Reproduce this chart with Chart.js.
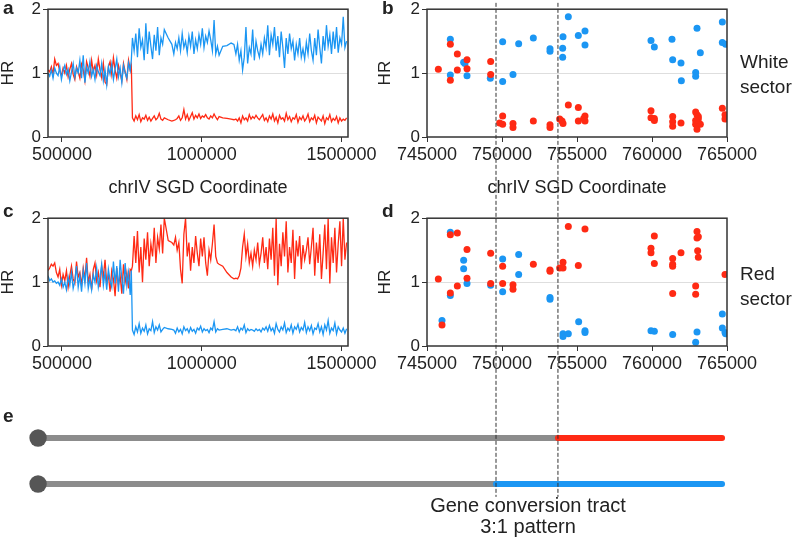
<!DOCTYPE html>
<html>
<head>
<meta charset="utf-8">
<script src="https://cdn.jsdelivr.net/npm/chart.js@4.4.1/dist/chart.umd.min.js"></script>
<style>
    body { margin: 0; background: #fff; }
    #wrap { position: relative; width: 796px; height: 542px; overflow: hidden;
            font-family: 'Liberation Sans', Arial, Helvetica, sans-serif; color: #222; }
    canvas { position: absolute; }
    #chartE { pointer-events: none; }
    .letter { position: absolute; font-weight: bold; font-size: 19px; line-height: 19px; }
    .side { position: absolute; font-size: 19px; line-height: 25px; }
    .note { position: absolute; font-size: 20px; line-height: 21px; text-align: center; width: 220px; }
</style>
</head>
<body>
<div id="wrap">
    <canvas id="chartA" width="400" height="203" style="left:0;top:-3px"></canvas>
    <canvas id="chartB" width="400" height="203" style="left:377px;top:-3px"></canvas>
    <canvas id="chartC" width="400" height="174" style="left:0;top:206px"></canvas>
    <canvas id="chartD" width="400" height="174" style="left:377px;top:206px"></canvas>
    <canvas id="chartE" width="796" height="542" style="left:0;top:0"></canvas>

    <div class="letter" style="left:3px;top:-2px">a</div>
    <div class="letter" style="left:382px;top:-2px">b</div>
    <div class="letter" style="left:3px;top:201px">c</div>
    <div class="letter" style="left:382px;top:201px">d</div>
    <div class="letter" style="left:3px;top:406px">e</div>

    <div class="side" style="left:740px;top:49px">White<br>sector</div>
    <div class="side" style="left:740px;top:261px">Red<br>sector</div>
    <div class="note" style="left:418px;top:495px">Gene conversion tract<br>3:1 pattern</div>
</div>

<script>
// ========================================
// データ
// ========================================

// 軸の目盛り
const yTicks = [0, 1, 2];
const wideTicks = [500000, 1000000, 1500000];
const zoomTicks = [745000, 750000, 755000, 760000, 765000];

// a, c の測定位置 (kb)
const posKb = [
    450,456,462,468,474,480,486,492,498,504,510,516,522,528,534,540,546,552,558,564,
    570,576,582,588,594,600,606,612,618,624,630,636,642,648,654,660,666,672,678,684,
    690,696,702,708,714,720,726,732,738,744,748,
    752,758,764,770,776,782,788,794,800,806,812,818,824,830,836,842,848,854,860,866,
    880,893,
    900,906,912,918,924,930,936,942,948,954,960,966,972,978,984,990,996,1002,1008,1014,
    1020,1026,1032,1038,1044,1050,1056,1062,
    1075,1090,1105,1115,
    1122,1128,1134,1140,1146,1152,1158,1164,1170,1176,1182,1188,1194,1200,1206,1212,1218,1224,1230,1236,
    1242,1248,1254,1260,1266,1272,1278,1284,1290,1296,1302,1308,1314,1320,1326,1332,1338,1344,1350,1356,
    1362,1368,1374,1380,1386,1392,1398,1404,1410,1416,1422,1428,1434,1440,1446,1452,1458,1464,1470,1476,
    1482,1488,1494,1500,1506,1512,1518
];

// a: White sector
const redA = [
    1.05,1.02,1.10,0.98,1.22,1.12,1.15,1.03,0.96,1.08, 1.00,1.12,0.94,1.06,1.15,0.98,0.90,1.10,1.02,0.92,
    1.14,1.05,0.88,1.18,1.08,0.95,1.20,1.02,1.12,0.97, 1.22,1.05,0.93,1.15,0.86,0.82,1.10,1.18,0.98,1.24,
    1.05,0.92,1.12,1.00,0.88,1.15,1.02,0.90,1.20,1.05, 1.12,
    0.30,0.25,0.33,0.27,0.35,0.24,0.30,0.28,0.34,0.26, 0.31,0.25,0.29,0.33,0.27,0.30,0.37,0.28,0.26,0.30,
    0.27,0.25,
    0.26,0.27,0.29,0.33,0.26,0.30,0.43,0.28,0.35,0.26, 0.32,0.38,0.28,0.34,0.30,0.36,0.29,0.33,0.31,0.35,
    0.30,0.28,0.33,0.30,0.36,0.31,0.27,0.32,
    0.30,0.29,0.28,0.27,
    0.28,0.25,0.30,0.22,0.33,0.27,0.30,0.25,0.35,0.28, 0.32,0.29,0.34,0.30,0.27,0.31,0.35,0.26,0.30,0.24,
    0.33,0.28,0.36,0.25,0.31,0.22,0.34,0.28,0.30,0.25, 0.37,0.27,0.32,0.24,0.30,0.28,0.35,0.23,0.31,0.27,
    0.33,0.25,0.29,0.36,0.24,0.30,0.27,0.34,0.22,0.31, 0.28,0.25,0.33,0.21,0.30,0.27,0.35,0.24,0.29,0.26,
    0.32,0.22,0.30,0.25,0.28,0.26,0.30
];
const blueA = [
    1.00,0.95,1.05,0.92,1.08,1.00,0.96,1.10,0.90,1.04, 1.12,0.98,1.06,0.88,1.02,1.15,0.94,1.08,1.00,1.20,
    0.92,1.28,0.85,1.10,1.00,1.18,0.95,1.06,0.90,1.12, 1.02,0.96,1.15,0.88,1.05,0.82,1.10,0.98,1.14,0.90,
    1.06,1.22,0.94,1.08,0.85,1.12,1.00,0.92,1.16,1.04, 1.20,
    1.55,1.35,1.62,1.25,1.70,1.40,1.52,1.20,1.78,1.30, 1.65,1.42,1.22,1.60,1.35,1.72,1.28,1.55,1.45,1.68,
    1.55,1.45,
    1.30,1.48,1.38,1.55,1.35,1.62,1.40,1.50,1.32,1.58, 1.42,1.65,1.30,1.52,1.38,1.60,1.45,1.70,1.40,1.58,
    1.48,1.66,1.52,1.35,1.83,1.30,1.42,1.28,
    1.42,1.43,1.47,1.45,
    1.30,1.45,1.20,1.35,1.05,1.25,1.72,1.15,1.40,1.30, 1.68,1.20,1.50,1.35,1.25,1.45,1.30,1.55,1.40,1.75,
    1.28,1.60,1.45,1.72,1.35,1.58,1.25,1.65,1.40,1.08, 1.55,1.30,1.62,1.38,1.50,1.20,1.45,1.30,1.55,1.25,
    1.38,1.22,1.48,1.30,1.62,1.35,1.20,1.55,1.28,1.68, 1.40,1.15,1.58,1.35,1.75,1.42,1.60,1.30,1.65,1.38,
    1.72,1.32,1.55,1.45,1.88,1.40,1.50
];

// c: Red sector
const redC = [
    1.18,1.22,1.28,1.25,1.30,1.15,1.08,1.20,0.95,1.12, 1.02,1.18,0.92,1.10,1.25,1.05,0.98,1.32,1.08,1.15,
    0.95,1.22,1.05,1.38,1.00,1.12,0.88,1.20,1.30,1.02, 1.15,0.92,1.25,1.08,1.35,0.98,1.12,0.85,1.18,1.05,
    0.78,1.22,0.95,1.10,0.82,1.28,1.00,1.15,0.90,1.20, 1.18,
    1.25,1.72,1.30,1.80,1.15,1.55,1.00,1.68,1.35,1.78, 1.25,1.60,1.40,1.85,1.30,1.70,1.52,1.90,1.45,2.00,
    1.65,1.62,
    1.58,1.70,1.50,1.62,1.20,0.98,1.75,2.00,1.40,1.62, 1.18,1.55,1.30,1.72,1.45,1.25,1.68,1.40,1.70,1.30,
    1.10,1.50,1.35,1.60,1.90,1.40,1.30,1.28,
    1.25,1.15,1.08,1.05,
    1.06,1.05,1.10,1.22,1.55,1.75,1.40,1.60,1.30,1.45, 1.25,1.50,1.35,1.62,1.28,1.45,1.70,1.30,1.55,1.20,
    1.68,1.35,1.85,1.10,2.00,0.95,1.60,1.25,1.78,1.40, 1.95,1.15,1.55,1.30,1.82,1.05,1.65,1.40,1.72,1.20,
    1.58,1.35,1.50,1.70,1.28,1.55,1.85,1.10,1.62,1.30, 1.75,1.05,1.45,1.90,1.20,2.00,0.98,1.70,1.30,1.85,
    1.15,1.60,1.95,1.25,2.00,1.35,1.62
];
const blueC = [
    1.10,1.02,1.05,1.00,1.02,0.98,1.00,0.95,1.05,0.92, 1.00,0.88,1.08,0.95,1.15,0.90,1.02,1.25,0.92,1.10,
    0.85,1.18,0.98,1.30,0.90,1.05,0.88,1.12,1.00,1.22, 0.92,1.08,1.28,0.95,1.15,0.88,1.20,1.02,0.92,1.32,
    0.98,1.25,0.85,1.35,1.05,0.82,1.30,0.95,1.15,0.80, 1.18,
    0.25,0.18,0.30,0.22,0.35,0.20,0.28,0.23,0.33,0.19, 0.27,0.24,0.38,0.21,0.30,0.25,0.33,0.22,0.26,0.29,
    0.27,0.26,
    0.25,0.20,0.28,0.22,0.26,0.19,0.30,0.24,0.27,0.21, 0.29,0.23,0.26,0.20,0.28,0.25,0.31,0.22,0.27,0.24,
    0.26,0.21,0.28,0.25,0.38,0.22,0.27,0.25,
    0.26,0.27,0.25,0.26,
    0.24,0.30,0.22,0.28,0.25,0.33,0.21,0.27,0.24,0.26, 0.25,0.23,0.27,0.24,0.26,0.22,0.28,0.25,0.30,0.23,
    0.32,0.24,0.28,0.20,0.35,0.26,0.22,0.30,0.25,0.36, 0.21,0.28,0.24,0.33,0.20,0.30,0.26,0.34,0.22,0.29,
    0.25,0.37,0.21,0.30,0.24,0.32,0.19,0.28,0.26,0.35, 0.22,0.30,0.18,0.33,0.25,0.40,0.20,0.28,0.24,0.36,
    0.19,0.30,0.25,0.22,0.28,0.20,0.27
];

// b: White sector の拡大 [位置, HR]
const whiteRedPts = [
    [745756,1.06],[746556,1.45],[746556,0.89],[747022,1.30],[747022,1.05],[747667,1.21],[747667,1.07],
    [749244,1.18],[749244,0.98],[749844,0.22],[750044,0.20],[750044,0.33],[750733,0.21],[750733,0.15],
    [752089,0.25],[753200,0.19],[753200,0.15],[753844,0.28],[754000,0.25],[754067,0.21],[754422,0.50],
    [755089,0.46],[755089,0.25],[755533,0.33],[755444,0.29],[755533,0.25],[759933,0.41],[759933,0.30],
    [760156,0.29],[760156,0.26],[761378,0.32],[761378,0.24],[761378,0.17],[761933,0.22],[762911,0.39],
    [763000,0.35],[763089,0.32],[763089,0.28],[762911,0.20],[763222,0.20],[763000,0.12],[762911,0.26],
    [764689,0.45],[764867,0.35],[764867,0.28]
];
const whiteBluePts = [
    [746556,1.53],[746556,0.97],[747444,1.17],[747530,1.15],[747667,0.96],[749222,0.92],[750044,1.49],
    [750044,0.87],[750733,0.98],[751111,1.46],[752089,1.55],[753200,1.38],[753200,1.34],[754067,1.57],
    [754044,1.39],[754044,1.25],[754422,1.88],[755089,1.59],[755533,1.66],[755533,1.44],[759933,1.51],
    [760156,1.41],[761333,1.53],[761378,1.21],[761933,1.16],[761956,0.88],[762911,1.01],[762911,0.95],
    [763000,1.70],[763222,1.32],[764689,1.80],[764689,1.48],[764911,1.45]
];

// d: Red sector の拡大
const redRedPts = [
    [745756,1.05],[746000,0.33],[746556,1.74],[746556,0.83],[747022,1.77],[747022,0.94],[747667,1.51],
    [747667,1.06],[749244,1.45],[749244,0.98],[750044,1.25],[750044,0.98],[750733,0.96],[750733,0.89],
    [752089,1.28],[753200,1.19],[753200,1.17],[753844,1.22],[754067,1.31],[754067,1.22],[754422,1.87],
    [755533,1.83],[755089,1.26],[759933,1.53],[759933,1.46],[760156,1.72],[760156,1.29],[761378,1.37],
    [761378,1.28],[761378,1.25],[761378,0.82],[761933,1.46],[763000,1.79],[763000,1.69],[763089,1.71],
    [763044,1.49],[763089,1.39],[762911,0.94],[762911,0.81],[764867,1.12]
];
const redBluePts = [
    [746556,1.78],[746556,0.79],[746000,0.40],[747444,1.34],[747444,1.21],[747667,0.98],[749244,0.95],
    [750044,1.36],[750044,0.85],[751111,1.43],[751111,1.12],[753200,0.76],[753200,0.73],[754067,0.19],
    [754067,0.15],[754422,0.19],[755111,0.38],[755533,0.24],[755533,0.21],[759933,0.24],[760156,0.23],
    [761378,0.18],[763000,0.22],[762911,0.06],[764689,0.50],[764689,0.28],[764867,0.21],[764911,0.19]
];

// e: 模式図 (b, d と同じ座標)
const chromStart = 719070;
const chromEnd = 764670;
const tractLeft = 749600;
const tractRight = 753730;

// ========================================
// 共通設定
// ========================================

const RED = '#ff2a14';
const BLUE = '#1b96f3';
const INK = '#222';

Chart.defaults.font.family = "'Liberation Sans', Arial, Helvetica, sans-serif";
Chart.defaults.color = INK;
Chart.defaults.animation = false;

// プロット枠
const framePlugin = {
    id: 'frame',
    afterDraw(chart) {
        const { ctx, chartArea: a } = chart;
        ctx.save();
        ctx.strokeStyle = '#333';
        ctx.lineWidth = 1.5;
        ctx.strokeRect(a.left, a.top, a.right - a.left, a.bottom - a.top);
        ctx.restore();
    }
};

function yScale(width) {
    return {
        min: 0, max: 2,
        afterBuildTicks: s => { s.ticks = yTicks.map(v => ({ value: v })); },
        afterFit: s => { s.width = width; },
        ticks: { color: INK, font: { size: 17 }, padding: 2 },
        grid: {
            color: c => (c.tick && c.tick.value === 1) ? '#dedede' : 'rgba(0,0,0,0)',
            tickColor: '#333', tickLength: 5
        },
        border: { display: false },
        title: { display: true, text: 'HR', color: INK, font: { size: 17, lineHeight: 1 }, padding: 0 }
    };
}

function xScale(min, max, tickVals, height, title) {
    return {
        type: 'linear', min: min, max: max,
        afterBuildTicks: s => { s.ticks = tickVals.map(v => ({ value: v })); },
        afterFit: s => { s.height = height; },
        ticks: { color: INK, font: { size: 18 }, padding: 2, maxRotation: 0, autoSkip: false,
                 callback: v => String(v) },
        grid: { drawOnChartArea: false, tickColor: '#333', tickLength: 5 },
        border: { display: false },
        title: title
            ? { display: true, text: title, color: INK, font: { size: 18 }, padding: { top: 0, bottom: 1 } }
            : { display: false }
    };
}

function baseOptions(padRight, scales) {
    return {
        responsive: false,
        layout: { autoPadding: false, padding: { left: 0, top: 11, right: padRight, bottom: 0 } },
        plugins: { legend: { display: false }, tooltip: { enabled: false } },
        scales: scales
    };
}

// 折れ線 (a, c)
function lineChart(id, redVals, blueVals, xHeight, title) {
    const toPts = vals => posKb.map((p, i) => ({ x: p * 1000, y: vals[i] }));
    return new Chart(document.getElementById(id), {
        type: 'line',
        data: {
            datasets: [
                { data: toPts(blueVals), borderColor: BLUE, borderWidth: 1.3, pointRadius: 0, tension: 0 },
                { data: toPts(redVals), borderColor: RED, borderWidth: 1.3, pointRadius: 0, tension: 0 }
            ]
        },
        options: baseOptions(52, {
            x: xScale(450000, 1523000, wideTicks, xHeight, title),
            y: yScale(48)
        }),
        plugins: [framePlugin]
    });
}

// 散布図 (b, d)
function dotChart(id, redPts, bluePts, xHeight, title) {
    const toPts = arr => arr.map(p => ({ x: p[0], y: p[1] }));
    const dot = color => ({ pointRadius: 3.5, pointBackgroundColor: color, pointBorderWidth: 0, showLine: false });
    return new Chart(document.getElementById(id), {
        type: 'scatter',
        data: {
            datasets: [
                Object.assign({ data: toPts(redPts) }, dot(RED)),
                Object.assign({ data: toPts(bluePts) }, dot(BLUE))
            ]
        },
        options: baseOptions(50, {
            x: xScale(745000, 765000, zoomTicks, xHeight, title),
            y: yScale(50)
        }),
        plugins: [framePlugin]
    });
}

// ========================================
// グラフの作成
// ========================================

lineChart('chartA', redA, blueA, 63, 'chrIV SGD Coordinate');
dotChart('chartB', whiteRedPts, whiteBluePts, 63, 'chrIV SGD Coordinate');
lineChart('chartC', redC, blueC, 34, null);
dotChart('chartD', redRedPts, redBluePts, 34, null);

// e: 染色体の模式図と破線 (ページ全体に重ねる)
const seg = (x1, x2, row) => [{ x: x1, y: row }, { x: x2, y: row }];
const chromLine = (color, cap) => ({ borderColor: color, borderWidth: 6, pointRadius: 0, borderCapStyle: cap });

new Chart(document.getElementById('chartE'), {
    type: 'line',
    data: {
        datasets: [
            { data: [{ x: tractLeft, y: 11.46 }, { x: tractLeft, y: 0.72 }],
              borderColor: '#333', borderWidth: 1, borderDash: [4, 2], pointRadius: 0 },
            { data: [{ x: tractRight, y: 11.46 }, { x: tractRight, y: 0.72 }],
              borderColor: '#333', borderWidth: 1, borderDash: [4, 2], pointRadius: 0 },
            { data: [{ x: chromStart, y: 2 }, { x: chromStart, y: 1 }], showLine: false,
              pointRadius: 8.7, pointBackgroundColor: '#565656', pointBorderWidth: 0 },
            Object.assign({ data: seg(tractRight, chromEnd, 2) }, chromLine(RED, 'round')),
            Object.assign({ data: seg(tractLeft, chromEnd, 1) }, chromLine(BLUE, 'round')),
            Object.assign({ data: seg(chromStart, tractRight, 2) }, chromLine('#8c8c8c', 'butt')),
            Object.assign({ data: seg(chromStart, tractLeft, 1) }, chromLine('#8c8c8c', 'butt'))
        ]
    },
    options: {
        responsive: false,
        layout: { autoPadding: false, padding: 0 },
        plugins: { legend: { display: false }, tooltip: { enabled: false } },
        scales: {
            x: { type: 'linear', display: false, min: 716533, max: 769600 },
            y: { display: false, min: -0.261, max: 11.522 }
        }
    }
});
</script>
</body>
</html>
